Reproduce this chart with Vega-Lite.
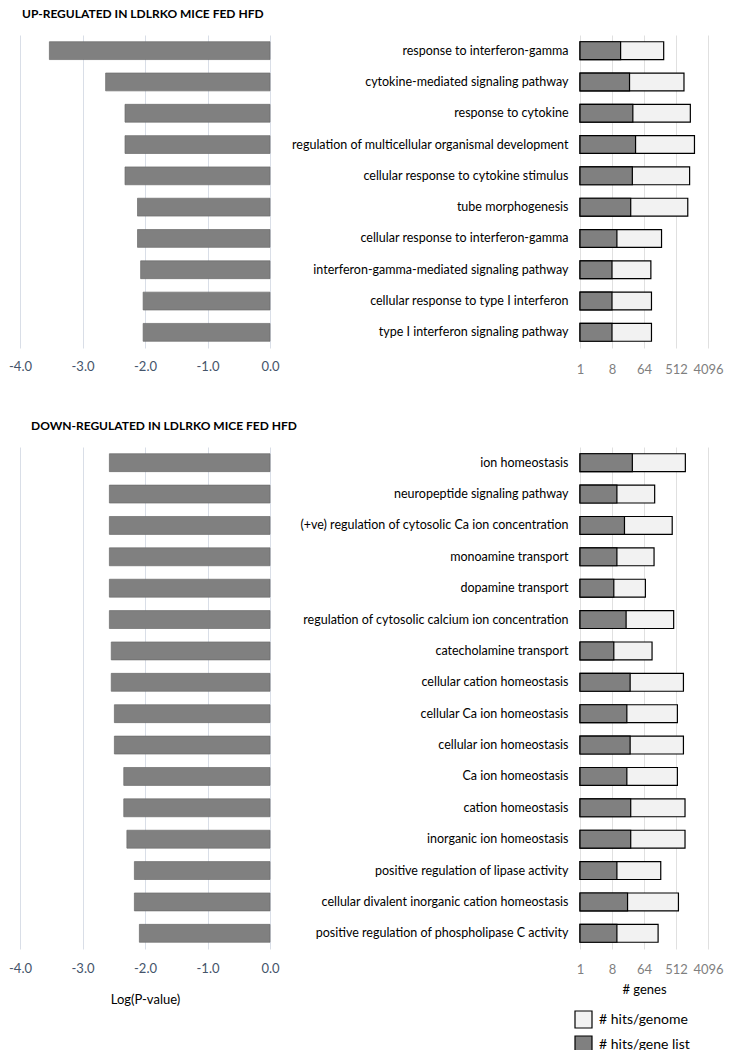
{
  "$schema": "https://vega.github.io/schema/vega-lite/v6.json",
  "padding": {"left": 8, "top": 8, "right": 5, "bottom": 0},
  "background": "white",
  "config": {
    "font": "Lato",
    "view": {"stroke": null},
    "axis": {"labelFont": "Lato", "titleFont": "Lato", "titleFontWeight": "normal", "titleFontSize": 13, "titleColor": "black", "gridColor": "#d9dee7", "domain": false, "ticks": false, "labelFlush": false, "labelOverlap": false}
  },
  "datasets": {
    "up": [
      {"term": "response to interferon-gamma", "logp": -3.53, "hits": 14, "genome": 230},
      {"term": "cytokine-mediated signaling pathway", "logp": -2.63, "hits": 25, "genome": 860},
      {"term": "response to cytokine", "logp": -2.32, "hits": 31, "genome": 1300},
      {"term": "regulation of multicellular organismal development", "logp": -2.32, "hits": 37, "genome": 1700},
      {"term": "cellular response to cytokine stimulus", "logp": -2.32, "hits": 30, "genome": 1240},
      {"term": "tube morphogenesis", "logp": -2.12, "hits": 27, "genome": 1100},
      {"term": "cellular response to interferon-gamma", "logp": -2.12, "hits": 11, "genome": 200},
      {"term": "interferon-gamma-mediated signaling pathway", "logp": -2.07, "hits": 8, "genome": 100},
      {"term": "cellular response to type I interferon", "logp": -2.03, "hits": 8, "genome": 104},
      {"term": "type I interferon signaling pathway", "logp": -2.03, "hits": 8, "genome": 104}
    ],
    "down": [
      {"term": "ion homeostasis", "logp": -2.57, "hits": 30, "genome": 940},
      {"term": "neuropeptide signaling pathway", "logp": -2.57, "hits": 11, "genome": 128},
      {"term": "(+ve) regulation of cytosolic Ca ion concentration", "logp": -2.57, "hits": 18, "genome": 400},
      {"term": "monoamine transport", "logp": -2.57, "hits": 11, "genome": 123},
      {"term": "dopamine transport", "logp": -2.57, "hits": 9, "genome": 70},
      {"term": "regulation of cytosolic calcium ion concentration", "logp": -2.57, "hits": 20, "genome": 440},
      {"term": "catecholamine transport", "logp": -2.54, "hits": 9, "genome": 108},
      {"term": "cellular cation homeostasis", "logp": -2.54, "hits": 26, "genome": 830},
      {"term": "cellular Ca ion homeostasis", "logp": -2.49, "hits": 21, "genome": 560},
      {"term": "cellular ion homeostasis", "logp": -2.49, "hits": 26, "genome": 830},
      {"term": "Ca ion homeostasis", "logp": -2.34, "hits": 21, "genome": 560},
      {"term": "cation homeostasis", "logp": -2.34, "hits": 27, "genome": 920},
      {"term": "inorganic ion homeostasis", "logp": -2.29, "hits": 27, "genome": 920},
      {"term": "positive regulation of lipase activity", "logp": -2.17, "hits": 11, "genome": 190},
      {"term": "cellular divalent inorganic cation homeostasis", "logp": -2.17, "hits": 22, "genome": 600},
      {"term": "positive regulation of phospholipase C activity", "logp": -2.09, "hits": 11, "genome": 160}
    ]
  },
  "columns": 2,
  "bounds": "flush",
  "spacing": {"column": 310, "row": 99},
  "concat": [
    {
      "data": {"name": "up"},
      "width": 250,
      "height": 313,
      "title": {"text": "UP-REGULATED IN LDLRKO MICE FED HFD", "anchor": "start", "frame": "group", "fontSize": 12, "fontWeight": "bold", "font": "Lato", "color": "black", "offset": 14, "dx": 2},
      "mark": {"type": "bar", "color": "#808080", "stroke": "#6b6b6b", "strokeWidth": 0.7},
      "encoding": {
        "y": {"field": "term", "type": "nominal", "sort": null, "axis": null, "scale": {"paddingInner": 0.43, "paddingOuter": 0.215}},
        "x": {"field": "logp", "type": "quantitative", "scale": {"domain": [-4, 0], "nice": false}, "axis": {"values": [-4, -3, -2, -1, 0], "labelExpr": "replace(format(datum.value, '.1f'), '\u2212', '-')", "title": null, "grid": true, "labelColor": "#44546a", "labelFontSize": 13, "labelPadding": 12}}
      }
    },
    {
      "data": {"name": "up"},
      "width": 128,
      "height": 313,
      "encoding": {
        "y": {"field": "term", "type": "nominal", "sort": null, "scale": {"paddingInner": 0.43, "paddingOuter": 0.215}, "axis": {"title": null, "labelFontSize": 12.5, "labelColor": "black", "labelPadding": 12, "labelLimit": 400}}
      },
      "layer": [
        {
          "mark": {"type": "bar", "fill": "#f2f2f2", "stroke": "black", "strokeWidth": 1.2},
          "encoding": {
            "x": {"field": "genome", "type": "quantitative", "scale": {"type": "log", "base": 2, "domain": [1, 4096], "nice": false}, "axis": {"values": [1, 8, 64, 512, 4096], "format": "d", "title": null, "grid": true, "gridColor": "#e0e0e0", "labelColor": "#7f7f7f", "labelFontSize": 13, "labelPadding": 15}},
            "x2": {"datum": 1}
          }
        },
        {
          "mark": {"type": "bar", "fill": "#808080", "stroke": "black", "strokeWidth": 1.2},
          "encoding": {
            "x": {"field": "hits", "type": "quantitative"},
            "x2": {"datum": 1}
          }
        }
      ]
    },
    {
      "data": {"name": "down"},
      "width": 250,
      "height": 502,
      "title": {"text": "DOWN-REGULATED IN LDLRKO MICE FED HFD", "anchor": "start", "frame": "group", "fontSize": 12, "fontWeight": "bold", "font": "Lato", "color": "black", "offset": 14, "dx": 11},
      "mark": {"type": "bar", "color": "#808080", "stroke": "#6b6b6b", "strokeWidth": 0.7},
      "encoding": {
        "y": {"field": "term", "type": "nominal", "sort": null, "axis": null, "scale": {"paddingInner": 0.43, "paddingOuter": 0.215}},
        "x": {"field": "logp", "type": "quantitative", "scale": {"domain": [-4, 0], "nice": false}, "axis": {"values": [-4, -3, -2, -1, 0], "labelExpr": "replace(format(datum.value, '.1f'), '\u2212', '-')", "title": "Log(P-value)", "titlePadding": 18, "grid": true, "labelColor": "#44546a", "labelFontSize": 13, "labelPadding": 13}}
      }
    },
    {
      "data": {"name": "down"},
      "width": 128,
      "height": 502,
      "encoding": {
        "y": {"field": "term", "type": "nominal", "sort": null, "scale": {"paddingInner": 0.43, "paddingOuter": 0.215}, "axis": {"title": null, "labelFontSize": 12.5, "labelColor": "black", "labelPadding": 12, "labelLimit": 400}}
      },
      "layer": [
        {
          "mark": {"type": "bar", "stroke": "black", "strokeWidth": 1.2},
          "encoding": {
            "x": {"field": "genome", "type": "quantitative", "scale": {"type": "log", "base": 2, "domain": [1, 4096], "nice": false}, "axis": {"values": [1, 8, 64, 512, 4096], "format": "d", "title": "# genes", "titlePadding": 7, "grid": true, "gridColor": "#e0e0e0", "labelColor": "#7f7f7f", "labelFontSize": 13, "labelPadding": 14}},
            "x2": {"datum": 1},
            "color": {"datum": "# hits/genome", "scale": {"domain": ["# hits/genome", "# hits/gene list"], "range": ["#f2f2f2", "#808080"]}, "legend": {"orient": "none", "legendX": 554, "legendY": 975, "title": null, "symbolType": "square", "symbolSize": 289, "symbolStrokeColor": "black", "symbolStrokeWidth": 1.2, "labelFontSize": 14, "labelFont": "Lato", "labelColor": "black", "rowPadding": 2, "padding": 0, "labelOffset": 6}}
          }
        },
        {
          "mark": {"type": "bar", "stroke": "black", "strokeWidth": 1.2},
          "encoding": {
            "x": {"field": "hits", "type": "quantitative"},
            "x2": {"datum": 1},
            "color": {"datum": "# hits/gene list"}
          }
        }
      ]
    }
  ]
}
